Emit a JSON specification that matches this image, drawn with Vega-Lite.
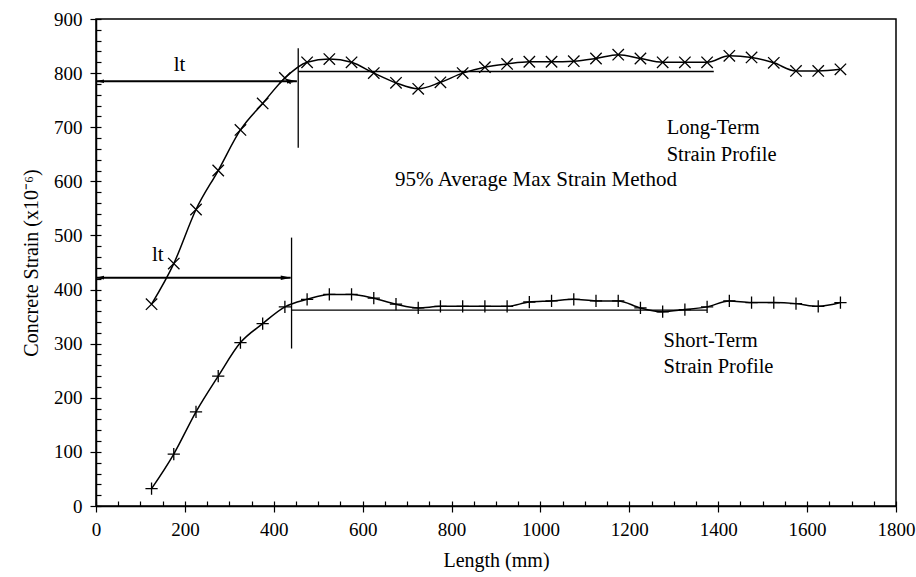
{
  "$schema": "https://vega.github.io/schema/vega-lite/v6.json",
  "width": 800,
  "height": 487,
  "autosize": "none",
  "padding": {"left": 96, "top": 19, "right": 20, "bottom": 71},
  "background": "white",
  "config": {
    "font": "Liberation Serif",
    "view": {"stroke": "black", "strokeWidth": 1.5},
    "axis": {
      "domainColor": "black", "tickColor": "black", "labelColor": "black", "titleColor": "black",
      "grid": false, "labelFont": "Liberation Serif", "titleFont": "Liberation Serif",
      "labelFontSize": 19, "titleFontSize": 20, "titleFontWeight": "normal",
      "domainWidth": 1.5, "tickWidth": 1.2
    }
  },
  "datasets": {
    "curves": [
      {"series": "Long-Term", "x": 125, "y": 373}, {"series": "Long-Term", "x": 175, "y": 448},
      {"series": "Long-Term", "x": 225, "y": 548}, {"series": "Long-Term", "x": 275, "y": 620},
      {"series": "Long-Term", "x": 325, "y": 695}, {"series": "Long-Term", "x": 375, "y": 744},
      {"series": "Long-Term", "x": 425, "y": 791}, {"series": "Long-Term", "x": 475, "y": 820},
      {"series": "Long-Term", "x": 525, "y": 826}, {"series": "Long-Term", "x": 575, "y": 820},
      {"series": "Long-Term", "x": 625, "y": 800}, {"series": "Long-Term", "x": 675, "y": 782},
      {"series": "Long-Term", "x": 725, "y": 771}, {"series": "Long-Term", "x": 775, "y": 783},
      {"series": "Long-Term", "x": 825, "y": 800}, {"series": "Long-Term", "x": 875, "y": 811},
      {"series": "Long-Term", "x": 925, "y": 817}, {"series": "Long-Term", "x": 975, "y": 821},
      {"series": "Long-Term", "x": 1025, "y": 821}, {"series": "Long-Term", "x": 1075, "y": 822},
      {"series": "Long-Term", "x": 1125, "y": 827}, {"series": "Long-Term", "x": 1175, "y": 834},
      {"series": "Long-Term", "x": 1225, "y": 827}, {"series": "Long-Term", "x": 1275, "y": 820},
      {"series": "Long-Term", "x": 1325, "y": 820}, {"series": "Long-Term", "x": 1375, "y": 820},
      {"series": "Long-Term", "x": 1425, "y": 832}, {"series": "Long-Term", "x": 1475, "y": 829},
      {"series": "Long-Term", "x": 1525, "y": 819}, {"series": "Long-Term", "x": 1575, "y": 804},
      {"series": "Long-Term", "x": 1625, "y": 804}, {"series": "Long-Term", "x": 1675, "y": 807},
      {"series": "Short-Term", "x": 125, "y": 32}, {"series": "Short-Term", "x": 175, "y": 96},
      {"series": "Short-Term", "x": 225, "y": 174}, {"series": "Short-Term", "x": 275, "y": 240},
      {"series": "Short-Term", "x": 325, "y": 302}, {"series": "Short-Term", "x": 375, "y": 337},
      {"series": "Short-Term", "x": 425, "y": 368}, {"series": "Short-Term", "x": 475, "y": 382},
      {"series": "Short-Term", "x": 525, "y": 391}, {"series": "Short-Term", "x": 575, "y": 391},
      {"series": "Short-Term", "x": 625, "y": 384}, {"series": "Short-Term", "x": 675, "y": 373},
      {"series": "Short-Term", "x": 725, "y": 366}, {"series": "Short-Term", "x": 775, "y": 369},
      {"series": "Short-Term", "x": 825, "y": 369}, {"series": "Short-Term", "x": 875, "y": 369},
      {"series": "Short-Term", "x": 925, "y": 369}, {"series": "Short-Term", "x": 975, "y": 377},
      {"series": "Short-Term", "x": 1025, "y": 379}, {"series": "Short-Term", "x": 1075, "y": 382},
      {"series": "Short-Term", "x": 1125, "y": 379}, {"series": "Short-Term", "x": 1175, "y": 379},
      {"series": "Short-Term", "x": 1225, "y": 366}, {"series": "Short-Term", "x": 1275, "y": 359},
      {"series": "Short-Term", "x": 1325, "y": 363}, {"series": "Short-Term", "x": 1375, "y": 368},
      {"series": "Short-Term", "x": 1425, "y": 379}, {"series": "Short-Term", "x": 1475, "y": 376},
      {"series": "Short-Term", "x": 1525, "y": 376}, {"series": "Short-Term", "x": 1575, "y": 374},
      {"series": "Short-Term", "x": 1625, "y": 369}, {"series": "Short-Term", "x": 1675, "y": 376}
    ],
    "avglines": [
      {"x": 455, "x2": 1390, "y": 803},
      {"x": 440, "x2": 1375, "y": 362}
    ],
    "vlines": [
      {"x": 455, "y": 846, "y2": 662},
      {"x": 440, "y": 496, "y2": 291}
    ],
    "arrows": [
      {"x": 0, "x2": 452, "y": 785},
      {"x": 0, "x2": 438, "y": 422}
    ],
    "headsRight": [
      {"x": 441, "y": 785},
      {"x": 427, "y": 422}
    ],
    "headsLeft": [
      {"x": 9, "y": 785},
      {"x": 9, "y": 422}
    ],
    "centerText": [
      {"x": 188, "y": 815, "label": "lt"},
      {"x": 139, "y": 463, "label": "lt"},
      {"x": 990, "y": 603, "label": "95% Average Max Strain Method"}
    ],
    "leftText": [
      {"x": 1284, "y": 699, "label": "Long-Term"},
      {"x": 1284, "y": 649, "label": "Strain Profile"},
      {"x": 1277, "y": 305, "label": "Short-Term"},
      {"x": 1277, "y": 257, "label": "Strain Profile"}
    ]
  },
  "layer": [
    {
      "data": {"name": "curves"},
      "mark": {"type": "line", "color": "black", "strokeWidth": 1.5, "interpolate": "monotone"},
      "encoding": {
        "x": {"field": "x", "type": "quantitative", "scale": {"domain": [0, 1800], "nice": false},
              "axis": {"orient": "bottom", "title": "Length (mm)", "values": [0,200,400,600,800,1000,1200,1400,1600,1800],
                       "format": "d", "tickSize": 6, "labelPadding": 8, "titlePadding": 11, "labelFlush": false}},
        "y": {"field": "y", "type": "quantitative", "scale": {"domain": [0, 900], "nice": false},
              "axis": {"orient": "left", "title": "Concrete Strain (x10⁻⁶)", "values": [0,100,200,300,400,500,600,700,800,900],
                       "format": "d", "tickSize": 6, "labelPadding": 8, "titlePadding": 12, "labelFlush": false}},
        "detail": {"field": "series", "type": "nominal"}
      }
    },
    {
      "data": {"name": "curves"},
      "transform": [{"filter": "datum.series == 'Long-Term'"}],
      "mark": {"type": "point", "shape": "M-1,-1L1,1M-1,1L1,-1", "filled": false, "color": "black", "strokeWidth": 1.3, "size": 130, "opacity": 1},
      "encoding": {
        "x": {"field": "x", "type": "quantitative", "scale": {"domain": [0, 1800], "nice": false},
              "axis": {"orient": "bottom", "title": null, "labels": false, "domain": false,
                       "values": [0,50,100,150,200,250,300,350,400,450,500,550,600,650,700,750,800,850,900,950,1000,1050,1100,1150,1200,1250,1300,1350,1400,1450,1500,1550,1600,1650,1700,1750,1800],
                       "tickSize": -5}},
        "y": {"field": "y", "type": "quantitative", "scale": {"domain": [0, 900], "nice": false},
              "axis": {"orient": "left", "title": null, "labels": false, "domain": false,
                       "values": [0,20,40,60,80,100,120,140,160,180,200,220,240,260,280,300,320,340,360,380,400,420,440,460,480,500,520,540,560,580,600,620,640,660,680,700,720,740,760,780,800,820,840,860,880,900],
                       "tickSize": -5}}
      }
    },
    {
      "data": {"name": "curves"},
      "transform": [{"filter": "datum.series == 'Short-Term'"}],
      "mark": {"type": "point", "shape": "M-1,0L1,0M0,-1L0,1", "filled": false, "color": "black", "strokeWidth": 1.3, "size": 150, "opacity": 1},
      "encoding": {
        "x": {"field": "x", "type": "quantitative", "scale": {"domain": [0, 1800], "nice": false}, "axis": null},
        "y": {"field": "y", "type": "quantitative", "scale": {"domain": [0, 900], "nice": false}, "axis": null}
      }
    },
    {
      "data": {"name": "avglines"},
      "mark": {"type": "rule", "color": "black", "strokeWidth": 1.3},
      "encoding": {
        "x": {"field": "x", "type": "quantitative", "scale": {"domain": [0, 1800], "nice": false}, "axis": null},
        "x2": {"field": "x2"},
        "y": {"field": "y", "type": "quantitative", "scale": {"domain": [0, 900], "nice": false}, "axis": null}
      }
    },
    {
      "data": {"name": "vlines"},
      "mark": {"type": "rule", "color": "black", "strokeWidth": 1.3},
      "encoding": {
        "x": {"field": "x", "type": "quantitative", "scale": {"domain": [0, 1800], "nice": false}, "axis": null},
        "y": {"field": "y", "type": "quantitative", "scale": {"domain": [0, 900], "nice": false}, "axis": null},
        "y2": {"field": "y2"}
      }
    },
    {
      "data": {"name": "arrows"},
      "mark": {"type": "rule", "color": "black", "strokeWidth": 2},
      "encoding": {
        "x": {"field": "x", "type": "quantitative", "scale": {"domain": [0, 1800], "nice": false}, "axis": null},
        "x2": {"field": "x2"},
        "y": {"field": "y", "type": "quantitative", "scale": {"domain": [0, 900], "nice": false}, "axis": null}
      }
    },
    {
      "data": {"name": "headsRight"},
      "mark": {"type": "point", "shape": "M-1,-0.45L1,0L-1,0.45Z", "filled": true, "color": "black", "size": 100, "opacity": 1},
      "encoding": {
        "x": {"field": "x", "type": "quantitative", "scale": {"domain": [0, 1800], "nice": false}, "axis": null},
        "y": {"field": "y", "type": "quantitative", "scale": {"domain": [0, 900], "nice": false}, "axis": null}
      }
    },
    {
      "data": {"name": "headsLeft"},
      "mark": {"type": "point", "shape": "M1,-0.45L-1,0L1,0.45Z", "filled": true, "color": "black", "size": 64, "opacity": 1},
      "encoding": {
        "x": {"field": "x", "type": "quantitative", "scale": {"domain": [0, 1800], "nice": false}, "axis": null},
        "y": {"field": "y", "type": "quantitative", "scale": {"domain": [0, 900], "nice": false}, "axis": null}
      }
    },
    {
      "data": {"name": "centerText"},
      "mark": {"type": "text", "font": "Liberation Serif", "fontSize": 21, "color": "black", "align": "center", "baseline": "middle"},
      "encoding": {
        "x": {"field": "x", "type": "quantitative", "scale": {"domain": [0, 1800], "nice": false}, "axis": null},
        "y": {"field": "y", "type": "quantitative", "scale": {"domain": [0, 900], "nice": false}, "axis": null},
        "text": {"field": "label"}
      }
    },
    {
      "data": {"name": "leftText"},
      "mark": {"type": "text", "font": "Liberation Serif", "fontSize": 20.5, "color": "black", "align": "left", "baseline": "middle"},
      "encoding": {
        "x": {"field": "x", "type": "quantitative", "scale": {"domain": [0, 1800], "nice": false}, "axis": null},
        "y": {"field": "y", "type": "quantitative", "scale": {"domain": [0, 900], "nice": false}, "axis": null},
        "text": {"field": "label"}
      }
    }
  ],
  "resolve": {"axis": {"x": "independent", "y": "independent"}}
}
